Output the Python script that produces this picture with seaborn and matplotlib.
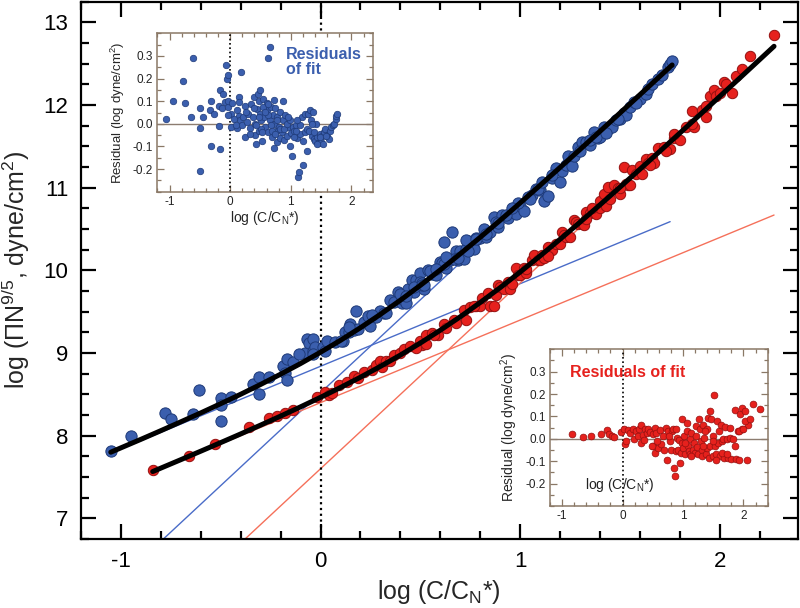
import numpy as np
import pandas as pd
import matplotlib
matplotlib.use("Agg")
import matplotlib.pyplot as plt
import seaborn as sns
from matplotlib.ticker import MultipleLocator, FormatStrFormatter

sns.set_theme(style="ticks")
plt.rcParams['font.family'] = ['Liberation Sans', 'DejaVu Sans']
plt.rcParams['mathtext.fontset'] = 'custom'
plt.rcParams['mathtext.rm'] = 'Liberation Sans'
plt.rcParams['mathtext.it'] = 'Liberation Sans:italic'
plt.rcParams['mathtext.bf'] = 'Liberation Sans:bold'
plt.rcParams['axes.unicode_minus'] = False

# ---------------- data: blue series ----------------
blue_x = [-1.05, -0.95, -0.78, -0.75, -0.61, -0.64, -0.50, -0.50, -0.50, -0.45,
          -0.34, -0.31, -0.31, -0.26, -0.19, -0.18, -0.17, -0.17, -0.14, -0.08,
          -0.07, -0.06, -0.04, -0.04, -0.03, 0.01, 0.02, 0.03, 0.11, 0.12,
          0.14, 0.15, 0.17, 0.18, 0.19, 0.22, 0.24, 0.25, 0.28, 0.30,
          0.32, 0.35, 0.37, 0.39, 0.41, 0.41, 0.43, 0.44, 0.46, 0.47,
          0.48, 0.50, 0.50, 0.51, 0.52, 0.54, 0.56, 0.58, 0.60, 0.61,
          0.62, 0.63, 0.65, 0.66, 0.68, 0.69, 0.70, 0.72, 0.73, 0.74,
          0.76, 0.77, 0.78, 0.80, 0.82, 0.83, 0.85, 0.87, 0.88, 0.89,
          0.91, 0.94, 0.96, 0.98, 1.00, 1.02, 1.04, 1.06, 1.08, 1.10,
          1.12, 1.14, 1.16, 1.18, 1.20, 1.21, 1.23, 1.24, 1.26, 1.27,
          1.29, 1.31, 1.33, 1.35, 1.37, 1.39, 1.40, 1.42, 1.44, 1.46,
          1.48, 1.50, 1.52, 1.53, 1.55, 1.57, 1.60, 1.63, 1.64, 1.66,
          1.69, 1.71, 1.74, 1.75, 1.76, 0.14, 0.26, 0.33, 0.40, 0.47,
          0.51, 0.55, 0.62, 0.67, 0.73, 0.78, 0.83, 0.89, 0.93, 0.99,
          1.05, 1.09, 1.16, 1.30, 1.35, 1.38, 1.43, 1.49, 1.58, 0.43,
          0.52, 0.58, 0.63, 0.69, 0.74, 0.96, 1.11, -0.11, -0.04, 0.07,
          0.10]
blue_y = [7.82, 8.00, 8.27, 8.20, 8.55, 8.26, 8.46, 8.37, 8.18, 8.47,
          8.63, 8.71, 8.51, 8.71, 8.84, 8.76, 8.93, 8.67, 8.89, 9.00,
          9.17, 9.12, 9.17, 9.03, 9.07, 9.07, 9.02, 9.14, 9.15, 9.25,
          9.25, 9.35, 9.28, 9.51, 9.29, 9.37, 9.45, 9.33, 9.44, 9.51,
          9.48, 9.64, 9.62, 9.74, 9.61, 9.66, 9.60, 9.78, 9.88, 9.74,
          9.88, 9.97, 9.86, 9.85, 9.78, 10.01, 9.96, 9.95, 10.10, 10.09,
          10.34, 10.03, 10.12, 10.46, 10.24, 10.12, 10.24, 10.14, 10.26, 10.35,
          10.29, 10.26, 10.39, 10.39, 10.50, 10.40, 10.47, 10.65, 10.58, 10.52,
          10.67, 10.64, 10.72, 10.68, 10.78, 10.72, 10.89, 10.91, 10.99, 10.97,
          10.84, 10.90, 11.12, 11.24, 11.07, 11.20, 11.28, 11.38, 11.26, 11.38,
          11.49, 11.55, 11.55, 11.52, 11.67, 11.60, 11.61, 11.73, 11.71, 11.73,
          11.82, 11.83, 11.90, 11.88, 11.98, 12.04, 12.08, 12.13, 12.19, 12.25,
          12.32, 12.37, 12.46, 12.50, 12.53, 9.31, 9.46, 9.48, 9.71, 9.80,
          9.82, 9.99, 10.08, 10.14, 10.37, 10.38, 10.44, 10.57, 10.67, 10.81,
          10.87, 10.98, 11.16, 11.44, 11.58, 11.61, 11.66, 11.83, 12.03, 9.69,
          9.82, 10.02, 10.16, 10.15, 10.24, 10.76, 11.07, 8.99, 8.99, 9.13,
          9.15]
blue_res = [0.02, 0.10, 0.19, 0.09, 0.29, 0.03, 0.07, -0.02, -0.21, 0.03,
            0.06, 0.10, -0.10, 0.045, 0.08, -0.01, 0.15, -0.11, 0.07, 0.095,
            0.26, 0.20, 0.215, 0.075, 0.10, 0.045, -0.015, 0.09, -0.02, 0.06,
            0.035, 0.12, 0.015, 0.23, -0.005, 0.03, 0.077, -0.06, 0.007, 0.044,
            -0.02, 0.086, 0.03, 0.12, -0.05, 0.0, -0.09, 0.067, 0.13, -0.03,
            0.10, 0.15, 0.044, 0.015, -0.074, 0.11, 0.03, -0.015, 0.092, 0.06,
            0.29, -0.037, 0.015, 0.34, 0.074, -0.06, 0.037, -0.107, 0.0, 0.07,
            -0.03, -0.08, 0.03, -0.015, 0.052, -0.062, -0.037, 0.10, 0.015, -0.07,
            0.037, -0.052, -0.015, -0.096, -0.04, -0.14, -0.012, -0.033, -0.003, -0.062,
            -0.237, -0.215, -0.044, 0.03, -0.18, -0.074, -0.037, 0.044, -0.12, -0.022,
            0.044, 0.06, 0.015, -0.052, 0.052, -0.067, -0.074, 0.0, -0.06, -0.086,
            -0.044, -0.081, -0.052, -0.089, -0.037, -0.022, -0.052, -0.067, -0.03, -0.015,
            -0.007, 0.0, 0.022, 0.033, 0.044, 0.096, 0.052, -0.044, 0.07, 0.03,
            -0.022, 0.074, 0.037, -0.007, 0.104, 0.015, -0.022, -0.022, 0.0, 0.015,
            -0.06, -0.033, -0.007, -0.03, 0.0, -0.037, -0.089, -0.06, -0.056, -0.007,
            -0.037, 0.052, 0.089, -0.033, -0.047, 0.03, 0.015, 0.133, 0.037, 0.022,
            -0.003]

# ---------------- data: red series ----------------
red_x = [-0.84, -0.66, -0.53, -0.36, -0.26, -0.22, -0.18, -0.14, -0.02, 0.02,
         0.04, 0.055, 0.09, 0.13, 0.17, 0.19, 0.22, 0.26, 0.28, 0.30,
         0.31, 0.33, 0.35, 0.37, 0.40, 0.42, 0.45, 0.50, 0.51, 0.53,
         0.53, 0.56, 0.59, 0.62, 0.63, 0.67, 0.72, 0.73, 0.75, 0.78,
         0.80, 0.81, 0.84, 0.85, 0.87, 0.88, 0.89, 0.90, 0.92, 0.94,
         0.95, 0.96, 0.98, 0.99, 1.00, 1.02, 1.03, 1.06, 1.07, 1.09,
         1.10, 1.11, 1.12, 1.14, 1.16, 1.18, 1.20, 1.21, 1.22, 1.23,
         1.25, 1.27, 1.28, 1.29, 1.31, 1.32, 1.33, 1.35, 1.38, 1.40,
         1.40, 1.42, 1.43, 1.44, 1.45, 1.47, 1.49, 1.50, 1.52, 1.53,
         1.54, 1.56, 1.58, 1.60, 1.61, 1.63, 1.64, 1.66, 1.67, 1.69,
         1.72, 1.75, 1.77, 1.80, 1.83, 1.86, 1.87, 1.91, 1.93, 1.95,
         1.97, 1.98, 2.02, 2.06, 2.08, 2.15, 2.27, 0.48, 0.57, 0.68,
         0.77, 1.03, 1.14, 1.33, 1.36, 1.50, 1.55, 1.65, 1.73, 1.77,
         1.86, 1.93, 2.00, 2.03, 2.11]
red_y = [7.59, 7.76, 7.90, 8.11, 8.21, 8.24, 8.27, 8.31, 8.47, 8.53,
         8.49, 8.52, 8.61, 8.65, 8.72, 8.70, 8.77, 8.80, 8.86, 8.90,
         8.83, 8.90, 8.90, 8.98, 9.00, 9.05, 9.08, 9.14, 9.10, 9.22,
         9.11, 9.24, 9.22, 9.35, 9.30, 9.40, 9.52, 9.40, 9.56, 9.57,
         9.57, 9.67, 9.73, 9.57, 9.57, 9.70, 9.82, 9.80, 9.78, 9.86,
         9.78, 9.84, 10.03, 9.95, 9.94, 10.03, 9.97, 10.13, 10.19, 10.12,
         10.12, 10.19, 10.15, 10.28, 10.25, 10.32, 10.32, 10.46, 10.43, 10.40,
         10.41, 10.61, 10.59, 10.56, 10.56, 10.55, 10.71, 10.70, 10.68, 10.84,
         10.76, 10.93, 10.78, 11.01, 10.87, 11.03, 11.00, 10.93, 11.25, 11.04,
         11.03, 11.22, 11.17, 11.26, 11.17, 11.35, 11.30, 11.36, 11.30, 11.48,
         11.49, 11.47, 11.60, 11.58, 11.73, 11.93, 11.73, 11.94, 11.86, 12.11,
         12.18, 12.11, 12.28, 12.15, 12.35, 12.60, 12.85, 9.06, 9.22, 9.36,
         9.57, 10.02, 10.18, 10.62, 10.75, 11.00, 11.03, 11.27, 11.44, 11.65,
         11.77, 11.99, 12.15, 12.25, 12.44]
red_res = [0.02, 0.007, 0.012, 0.02, 0.04, 0.02, 0.012, 0.007, 0.03, 0.042,
           -0.025, -0.01, 0.039, 0.027, 0.045, 0.0, 0.034, 0.012, 0.045, 0.061,
           -0.018, 0.019, -0.006, 0.042, 0.024, 0.045, 0.03, 0.02, -0.033, 0.049,
           -0.063, 0.027, -0.04, 0.039, -0.025, 0.012, 0.049, -0.093, 0.034, -0.01,
           -0.048, 0.034, 0.042, -0.13, -0.167, -0.055, 0.042, 0.004, -0.048, -0.007,
           -0.107, -0.063, 0.087, -0.018, -0.04, 0.012, -0.07, 0.034, 0.072, -0.033,
           -0.055, -0.003, -0.07, 0.027, -0.048, -0.018, -0.063, 0.057, 0.012, -0.036,
           -0.07, 0.087, 0.042, -0.01, -0.048, -0.078, 0.064, 0.004, -0.07, 0.045,
           -0.04, 0.094, -0.085, 0.124, -0.033, 0.087, 0.012, -0.078, 0.194, -0.033,
           -0.07, 0.079, -0.018, 0.034, -0.078, 0.06, -0.01, -0.003, -0.085, 0.054,
           -0.003, -0.085, 0.004, -0.09, 0.0, 0.131, -0.09, 0.034, -0.093, 0.109,
           0.139, 0.045, 0.124, -0.093, 0.064, 0.157, 0.134, -0.033, -0.01, -0.048,
           0.012, -0.018, -0.078, -0.033, 0.034, -0.01, -0.093, -0.063, -0.07, 0.049,
           -0.03, 0.034, 0.042, 0.079, 0.087]

# ---------------- fit curves ----------------
blue_fit_x = [-1.05, -1.0, -0.9, -0.8, -0.7, -0.6, -0.5, -0.4, -0.3, -0.2,
              -0.1, 0.0, 0.1, 0.2, 0.3, 0.4, 0.5, 0.6, 0.7, 0.8,
              0.9, 1.0, 1.1, 1.2, 1.3, 1.4, 1.5, 1.6, 1.7, 1.76]
blue_fit_y = [7.800, 7.852, 7.955, 8.060, 8.167, 8.275, 8.387, 8.501, 8.620, 8.744,
              8.873, 9.010, 9.154, 9.307, 9.469, 9.640, 9.820, 10.007, 10.202, 10.402,
              10.608, 10.818, 11.032, 11.248, 11.466, 11.686, 11.907, 12.129, 12.352, 12.486]
red_fit_x = [-0.84, -0.8, -0.7, -0.6, -0.5, -0.4, -0.3, -0.2, -0.1, 0.0,
             0.1, 0.2, 0.3, 0.4, 0.5, 0.6, 0.7, 0.8, 0.9, 1.0,
             1.1, 1.2, 1.3, 1.4, 1.5, 1.6, 1.7, 1.8, 1.9, 2.0,
             2.1, 2.2, 2.27]
red_fit_y = [7.566, 7.607, 7.709, 7.812, 7.916, 8.021, 8.128, 8.237, 8.349, 8.464,
             8.583, 8.708, 8.839, 8.976, 9.122, 9.277, 9.440, 9.613, 9.793, 9.982,
             10.177, 10.379, 10.586, 10.796, 11.010, 11.227, 11.445, 11.665, 11.886, 12.109,
             12.331, 12.555, 12.712]

# thin asymptote lines (end points)
blue_low_x, blue_low_y = [-1.05, 1.75], [7.79, 10.59]
blue_high_x, blue_high_y = [-0.82, 1.2], [6.675, 11.22]
red_low_x, red_low_y = [-0.84, 2.27], [7.56, 10.67]
red_high_x, red_high_y = [-0.42, 1.5], [6.655, 10.975]

# ---------------- styles ----------------
BLUE = "#3b5fae"
BLUE_EDGE = "#1e3a78"
RED = "#e6211d"
RED_EDGE = "#951010"
BLUE_LINE = "#4a6cc8"
RED_LINE = "#f5705a"
FRAME = "#8a7866"

fig = plt.figure(figsize=(8, 6.08), dpi=100)
ax = fig.add_axes([0.101, 0.1135, 0.8965, 0.8835])

for xs, ys, c in [(blue_low_x, blue_low_y, BLUE_LINE), (blue_high_x, blue_high_y, BLUE_LINE),
                  (red_low_x, red_low_y, RED_LINE), (red_high_x, red_high_y, RED_LINE)]:
    sns.lineplot(x=xs, y=ys, ax=ax, color=c, lw=1.0, sort=False, estimator=None, zorder=1)

ax.axvline(0, color="black", lw=1.6, ls=(0, (1, 1.6)), zorder=1.5)

sns.scatterplot(x=blue_x, y=blue_y, ax=ax, s=66, color=BLUE, edgecolor=BLUE_EDGE,
                linewidth=0.7, zorder=3)
sns.scatterplot(x=red_x, y=red_y, ax=ax, s=56, color=RED, edgecolor=RED_EDGE,
                linewidth=0.7, zorder=3)
sns.lineplot(x=blue_fit_x, y=blue_fit_y, ax=ax, color="black", lw=3.6, sort=False,
             estimator=None, zorder=4)
sns.lineplot(x=red_fit_x, y=red_fit_y, ax=ax, color="black", lw=3.6, sort=False,
             estimator=None, zorder=4)

ax.set_xlim(-1.2, 2.39)
ax.set_ylim(6.75, 13.25)
ax.xaxis.set_major_locator(MultipleLocator(1))
ax.xaxis.set_minor_locator(MultipleLocator(0.2))
ax.yaxis.set_major_locator(MultipleLocator(1))
ax.yaxis.set_minor_locator(MultipleLocator(0.25))
ax.tick_params(which="both", direction="in", top=True, right=True, colors="black",
               labelsize=16, width=1.6)
ax.tick_params(which="major", length=11, pad=9)
ax.tick_params(which="minor", length=6)
for sp in ax.spines.values():
    sp.set_linewidth(1.6)
    sp.set_color("black")
ax.set_xlabel("log (C/C$_{\\mathrm{N}}$*)", fontsize=18, labelpad=4)
ax.set_ylabel("log (\u03a0N$^{9/5}$, dyne/cm$^{2}$)", fontsize=18, labelpad=8)


def style_inset(a, xmin, xmax):
    a.set_facecolor("white")
    a.set_xlim(xmin, xmax)
    a.set_ylim(-0.3, 0.4)
    a.xaxis.set_major_locator(MultipleLocator(1))
    a.xaxis.set_minor_locator(MultipleLocator(0.2))
    a.yaxis.set_major_locator(MultipleLocator(0.1))
    a.yaxis.set_minor_locator(MultipleLocator(0.05))
    a.yaxis.set_major_formatter(FormatStrFormatter("%.1f"))
    a.set_yticks([-0.2, -0.1, 0.0, 0.1, 0.2, 0.3])
    a.tick_params(which="both", direction="in", top=True, right=True, colors=FRAME,
                  labelcolor="#222222", labelsize=8.5, width=0.9, pad=3)
    a.tick_params(which="major", length=5)
    a.tick_params(which="minor", length=3)
    for sp in a.spines.values():
        sp.set_color(FRAME)
        sp.set_linewidth(1.1)
    a.axhline(0, color="#8c7c70", lw=1.0, zorder=1)
    a.axvline(0, color="black", lw=1.2, ls=(0, (1, 1.6)), zorder=1.5)


# blue inset
axb = fig.add_axes([0.196, 0.6847, 0.2705, 0.2605])
style_inset(axb, -1.21, 2.36)
sns.scatterplot(x=blue_x, y=blue_res, ax=axb, s=22, color=BLUE, edgecolor=BLUE_EDGE,
                linewidth=0.5, zorder=3)
axb.set_xlabel("log (C/C$_{\\mathrm{N}}$*)", fontsize=10, labelpad=1)
axb.set_ylabel("Residual (log dyne/cm$^{2}$)", fontsize=9.5, labelpad=4)
axb.text(0.595, 0.915, "Residuals\nof fit", transform=axb.transAxes, ha="left", va="top",
         color=BLUE, fontsize=11.5, fontweight="bold", linespacing=1.0)

# red inset
axr = fig.add_axes([0.6875, 0.1678, 0.2721, 0.2577])
style_inset(axr, -1.2, 2.4)
sns.scatterplot(x=red_x, y=red_res, ax=axr, s=24, color=RED, edgecolor=RED_EDGE,
                linewidth=0.5, zorder=3)
axr.set_xlabel("")
axr.set_ylabel("Residual (log dyne/cm$^{2}$)", fontsize=10, labelpad=4)
axr.text(0.32, 0.075, "log (C/C$_{\\mathrm{N}}$*)", transform=axr.transAxes, ha="center",
         va="bottom", fontsize=10, color="#222222")
axr.text(0.09, 0.85, "Residuals of fit", transform=axr.transAxes, ha="left", va="center",
         color=RED, fontsize=11.5, fontweight="bold")

fig.savefig("out.png", dpi=100)
